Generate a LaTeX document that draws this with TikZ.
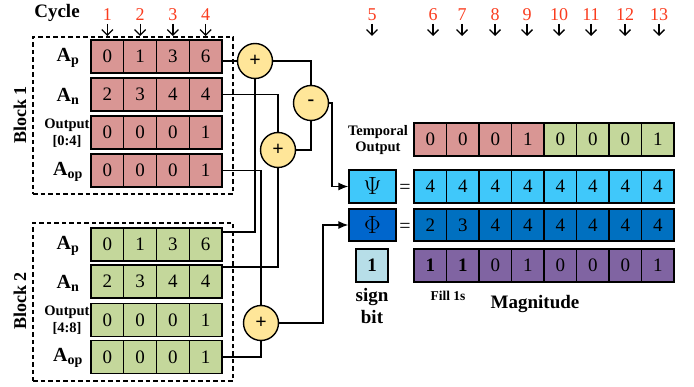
\documentclass[tikz,border=0pt]{standalone}
\usepackage{fontspec}
\setmainfont{Liberation Serif}
\usetikzlibrary{arrows.meta}
\definecolor{rcol}{RGB}{217,150,148}
\definecolor{gcol}{RGB}{196,215,155}
\definecolor{psicol}{RGB}{64,200,250}
\definecolor{phibox}{RGB}{0,102,204}
\definecolor{phicol}{RGB}{0,112,192}
\definecolor{pcol}{RGB}{128,100,162}
\definecolor{sgncol}{RGB}{183,222,232}
\definecolor{opcol}{RGB}{255,230,153}
\definecolor{numcol}{RGB}{250,60,30}
\begin{document}
\begin{tikzpicture}[x=1pt,y=-1pt,
  cell/.style={draw, line width=1.3pt, minimum width=32.7pt, minimum height=33pt, inner sep=0pt, font=\fontsize{19}{19}\selectfont},
  rcell/.style={cell, minimum width=32.5pt},
  op/.style={circle, draw, line width=1.4pt, fill=opcol, minimum size=35pt, inner sep=0pt, font=\fontsize{20}{20}\selectfont\bfseries},
  wire/.style={line width=1.4pt},
  arr/.style={wire, -{Latex[length=10pt,width=8pt]}},
  cyc/.style={line width=1.3pt, -{Straight Barb[length=5.5pt,width=11pt]}},
  cycnum/.style={text=numcol, font=\fontsize{18}{18}\selectfont, inner sep=0pt},
  lbl/.style={font=\fontsize{20}{20}\selectfont\bfseries, inner sep=0pt},
  slbl/.style={font=\fontsize{14.5}{16.5}\selectfont\bfseries, align=center, inner sep=0pt},
  blk/.style={draw, line width=1.4pt, dash pattern=on 4.5pt off 3pt},
  blkname/.style={font=\fontsize{18}{18}\selectfont\bfseries, rotate=90, inner sep=0pt}
]
\useasboundingbox (0,0) rectangle (694,387);

% dashed blocks
\node[blk, minimum width=200pt, minimum height=157pt, inner sep=0pt] (blk1) at (133,115.5) {};
\node[blk, minimum width=200pt, minimum height=158pt, inner sep=0pt] (blk2) at (133,302) {};
\node[blkname] (bn1) at (20,115) {Block 1};
\node[blkname] (bn2) at (20,301) {Block 2};

% cycle header
\node[font=\fontsize{19}{19}\selectfont\bfseries, inner sep=0pt] (cyc) at (57,13) {Cycle};
\foreach \n [count=\i] in {1,2,3,4} {
  \node[cycnum] (c\i) at ({107.4+32.75*(\i-1)},15) {\n};
  \coordinate (ca\i) at ({107.4+32.75*(\i-1)},24);
  \coordinate (cb\i) at ({107.4+32.75*(\i-1)},36);
  \draw[cyc] (ca\i) -- (cb\i);
}
\foreach \n/\x in {5/372,6/433,7/462,8/495,9/527,10/559,11/591,12/625,13/659} {
  \node[cycnum] (c\n) at (\x,15) {\n};
  \coordinate (ca\n) at (\x,24);
  \coordinate (cb\n) at (\x,36);
  \draw[cyc] (ca\n) -- (cb\n);
}

% row labels
\node[lbl] (l1) at (68,58) {A\textsubscript{p}};
\node[lbl] (l2) at (68,96) {A\textsubscript{n}};
\node[slbl] (l3) at (67,133) {Output\\{[0:4]}};
\node[lbl] (l4) at (68,172) {A\textsubscript{op}};
\node[lbl] (l5) at (68,246) {A\textsubscript{p}};
\node[lbl] (l6) at (68,283) {A\textsubscript{n}};
\node[slbl] (l7) at (67,320) {Output\\{[4:8]}};
\node[lbl] (l8) at (68,358) {A\textsubscript{op}};

% block cells
\foreach \nm/\y/\col/\vals in {b1ap/56.5/rcol/{0,1,3,6}, b1an/94.5/rcol/{2,3,4,4}, b1ou/132.5/rcol/{0,0,0,1}, b1aop/170.5/rcol/{0,0,0,1},
                               b2ap/244.5/gcol/{0,1,3,6}, b2an/281.5/gcol/{2,3,4,4}, b2ou/320/gcol/{0,0,0,1}, b2aop/357/gcol/{0,0,0,1}} {
  \foreach \v [count=\i] in \vals {
    \node[cell, fill=\col] (\nm\i) at ({107.4+32.75*(\i-1)},\y) {\v};
  }
}

% operators
\node[op] (p1) at (255,61) {+};
\node[op] (p2) at (278,150) {+};
\node[op] (m) at (311,103) {-};
\node[op] (p3) at (261,323) {+};

% right side
\node[slbl] (tl) at (378,140) {Temporal\\Output};
\foreach \v/\col [count=\i] in {0/rcol,0/rcol,0/rcol,1/rcol,0/gcol,0/gcol,0/gcol,1/gcol} {
  \node[rcell, fill=\col] (t\i) at ({430.25+32.5*(\i-1)},139.5) {\v};
}
\node[cell, fill=psicol, minimum width=47pt, font=\fontsize{24}{24}\selectfont] (psi) at (372.5,186.5) {$\Psi$};
\node[font=\fontsize{20}{20}\selectfont, inner sep=0pt] (eq1) at (405,189) {=};
\foreach \v [count=\i] in {4,4,4,4,4,4,4,4} {
  \node[rcell, fill=psicol] (s\i) at ({430.25+32.5*(\i-1)},186.5) {\v};
}
\node[cell, fill=phibox, minimum width=47pt, minimum height=32pt, font=\fontsize{24}{24}\selectfont] (phi) at (372.5,225) {$\Phi$};
\node[font=\fontsize{20}{20}\selectfont, inner sep=0pt] (eq2) at (405,228) {=};
\foreach \v [count=\i] in {2,3,4,4,4,4,4,4} {
  \node[rcell, fill=phicol, minimum height=32pt] (f\i) at ({430.25+32.5*(\i-1)},225) {\v};
}
\node[cell, fill=sgncol, minimum width=32pt, font=\fontsize{19}{19}\selectfont\bfseries] (sg) at (372,265.5) {1};
\foreach \v [count=\i] in {\textbf{1},\textbf{1},0,1,0,0,0,1} {
  \node[rcell, fill=pcol] (g\i) at ({430.25+32.5*(\i-1)},265.5) {\v};
}
\node[font=\fontsize{19}{22}\selectfont\bfseries, align=center, inner sep=0pt] (sb) at (372,306) {sign\\bit};
\node[font=\fontsize{13.5}{13.5}\selectfont\bfseries, inner sep=0pt] (fill) at (448,296) {Fill 1s};
\node[font=\fontsize{19}{19}\selectfont\bfseries, inner sep=0pt] (mag) at (535,304) {Magnitude};

% helper coordinates
\coordinate (yA) at (0,232);
\coordinate (yB) at (0,267);
\coordinate (k1) at (332,150);
\coordinate (k2) at (323,270);

% wires
\draw[wire] (b1ap4.east |- p1) -- (p1.west);
\draw[wire] (p1.south) |- (b2ap4.east |- yA);
\draw[wire] (b1an4.east) -| (p2.north);
\draw[wire] (p2.south) |- (b2an4.east |- yB);
\draw[wire] (p1.east) -| (m.north);
\draw[wire] (p2.east) -| (m.south);
\draw[wire] (b1aop4.east) -| (p3.north);
\draw[wire] (b2aop4.east) -| (p3.south);
\draw[arr] (m.east) -| (k1) |- (psi.west);
\draw[arr] (p3.east) -| (k2) |- (phi.west);
\end{tikzpicture}
\end{document}
